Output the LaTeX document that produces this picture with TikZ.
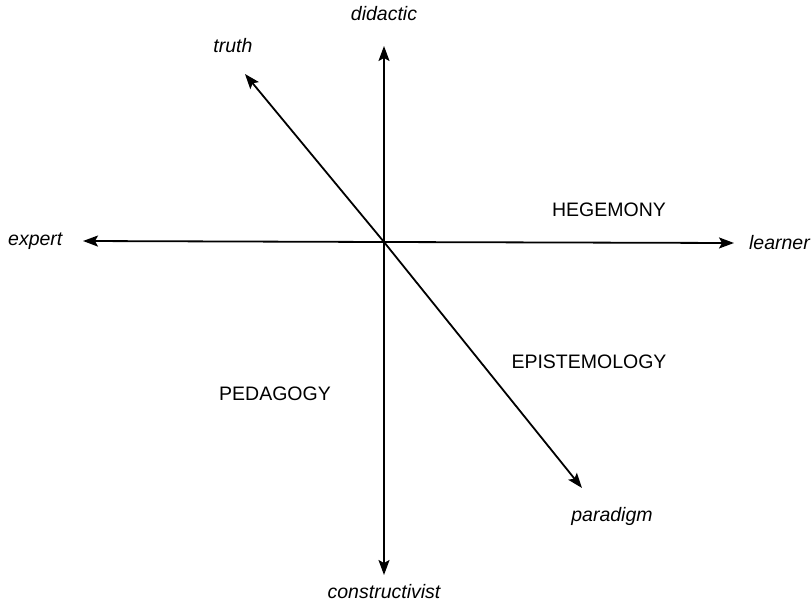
\documentclass[tikz,border=0pt]{standalone}
\usepackage{fontspec}
\setmainfont{Liberation Sans}
\usetikzlibrary{arrows.meta}
\begin{document}
\begin{tikzpicture}[x=1pt,y=-1pt,
  axis/.style={line width=1.8pt,-{Stealth[length=15pt,width=11pt,inset=3pt]}},
  lab/.style={font=\fontsize{19.5}{23}\selectfont\itshape,inner sep=0pt},
  zone/.style={font=\fontsize{19.5}{23}\selectfont,inner sep=0pt}]
\useasboundingbox (0,0) rectangle (812,605);
\coordinate (c) at (384,242);
\coordinate (top) at (384,46);
\coordinate (bot) at (384,575);
\coordinate (lft) at (83,241);
\coordinate (rgt) at (734,243);
\coordinate (tl) at (245,74);
\coordinate (br) at (582,488);
\draw[axis] (c) -- (top);
\draw[axis] (c) -- (bot);
\draw[axis] (c) -- (lft);
\draw[axis] (c) -- (rgt);
\draw[axis] (c) -- (tl);
\draw[axis] (c) -- (br);
\node[lab] (didactic) at (384,14) {didactic};
\node[lab] (truth) at (233,46) {truth};
\node[lab,anchor=west] (expert) at (8,241) {expert};
\node[lab,anchor=east] (learner) at (810,243) {learner};
\node[lab] (paradigm) at (612,516) {paradigm};
\node[lab] (constructivist) at (384,592) {constructivist};
\node[zone] (heg) at (609,210) {HEGEMONY};
\node[zone] (epi) at (589,362) {EPISTEMOLOGY};
\node[zone] (ped) at (275,394) {PEDAGOGY};
\end{tikzpicture}
\end{document}
